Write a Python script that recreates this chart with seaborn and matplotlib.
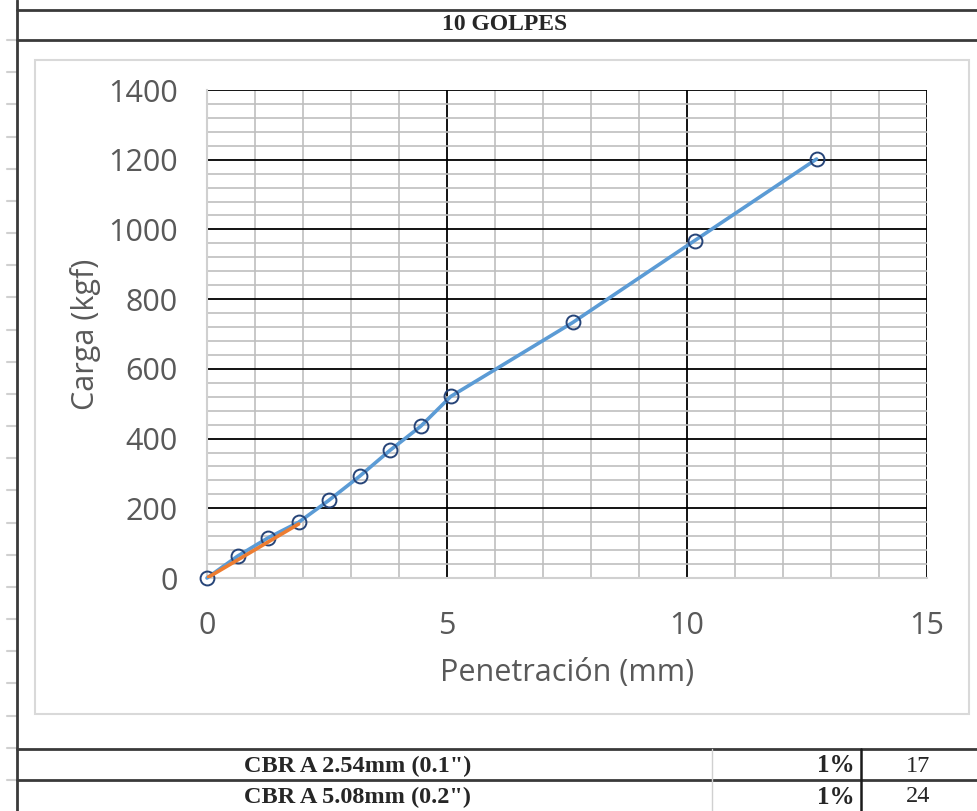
import numpy as np
import pandas as pd
import seaborn as sns
import matplotlib.pyplot as plt
from matplotlib.lines import Line2D
from matplotlib.patches import Rectangle
from matplotlib.ticker import MultipleLocator

# =========================================================
# Data
# =========================================================
penetracion = [0, 0.64, 1.27, 1.91, 2.54, 3.18, 3.81, 4.45, 5.08, 7.62, 10.16, 12.70]
carga = [0, 63, 115, 160, 223, 292, 366, 435, 521, 733, 968, 1202]

# correction line (orange)
corr_x = [0, 1.91]
corr_y = [0, 155]

titulo = "10 GOLPES"
tabla_labels = ['CBR A 2.54mm (0.1")', 'CBR A 5.08mm (0.2")']
tabla_pct = ["1%", "1%"]
tabla_vals = ["17", "24"]

W, H = 978, 811


def px(x, y):
    """pixel coords -> figure fraction"""
    return x / W, 1 - y / H


def hline(fig, y, x0, x1, color="#3a3a3a", lw=2.0):
    (a, b), (c, d) = px(x0, y), px(x1, y)
    fig.add_artist(Line2D([a, c], [b, d], color=color, lw=lw, transform=fig.transFigure))


def vline(fig, x, y0, y1, color="#3a3a3a", lw=2.0):
    (a, b), (c, d) = px(x, y0), px(x, y1)
    fig.add_artist(Line2D([a, c], [b, d], color=color, lw=lw, transform=fig.transFigure))


# =========================================================
# Figure
# =========================================================
sns.set_style("white")
plt.rcParams["font.family"] = ["Open Sans", "DejaVu Sans"]

fig = plt.figure(figsize=(W / 100, H / 100), dpi=100)

# spreadsheet row marks on the left edge
for y in np.linspace(40, 780, 24):
    hline(fig, y, 7, 17, color="#d0d0d0", lw=1.5)

# sheet borders
vline(fig, 17, 0, H)
hline(fig, 10, 17, W)
hline(fig, 40, 17, W)
hline(fig, 749, 17, W)
hline(fig, 780, 17, W)
vline(fig, 712, 749, H, color="#d0d0d0", lw=1.0)
vline(fig, 861, 749, H, color="#1a1a1a", lw=1.8)

# chart area border
x0, y0 = px(35, 714)
x1, y1 = px(969, 60)
fig.add_artist(Rectangle((x0, y0), x1 - x0, y1 - y0, fill=False,
                         edgecolor="#d9d9d9", lw=1.5, transform=fig.transFigure))

# texts in cells
serif = ["Liberation Serif", "DejaVu Serif"]
fig.text(*px(505, 25), titulo, ha="center", va="center", fontsize=17,
         fontweight="bold", family=serif)
for i, (lab, pct, val) in enumerate(zip(tabla_labels, tabla_pct, tabla_vals)):
    yc = 766 + i * 31
    fig.text(*px(358, yc), lab, ha="center", va="center", fontsize=17.5,
             fontweight="bold", family=serif)
    fig.text(*px(855, yc), pct, ha="right", va="center", fontsize=18,
             fontweight="bold", family=serif)
    fig.text(*px(918, yc), val, ha="center", va="center", fontsize=17.5,
             family=serif)

# =========================================================
# Chart
# =========================================================
ax = fig.add_axes([207 / W, 1 - 578 / H, (927 - 207) / W, (578 - 90) / H])

df = pd.DataFrame({"Penetración (mm)": penetracion, "Carga (kgf)": carga})
df_corr = pd.DataFrame({"x": corr_x, "y": corr_y})

sns.lineplot(data=df, x="Penetración (mm)", y="Carga (kgf)", ax=ax,
             color="#5B9BD5", lw=2.6, marker="o", markersize=10,
             markerfacecolor="none", markeredgecolor="#264478",
             markeredgewidth=1.4, zorder=4, clip_on=False)
sns.lineplot(data=df_corr, x="x", y="y", ax=ax, color="#ED7D31", lw=2.6,
             zorder=5)

ax.set_xlim(0, 15)
ax.set_ylim(0, 1400)
ax.xaxis.set_major_locator(MultipleLocator(5))
ax.xaxis.set_minor_locator(MultipleLocator(1))
ax.yaxis.set_major_locator(MultipleLocator(200))
ax.yaxis.set_minor_locator(MultipleLocator(40))

ax.grid(which="minor", color="#bfbfbf", lw=1.2, zorder=1)
ax.grid(which="major", color="#000000", lw=1.3, zorder=2)
ax.set_axisbelow(True)
ax.get_xgridlines()[0].set_visible(False)
ax.get_ygridlines()[0].set_visible(False)

for s in ["left", "bottom"]:
    ax.spines[s].set_color("#d0d0d0")
    ax.spines[s].set_linewidth(1.5)
for s in ["top", "right"]:
    ax.spines[s].set_visible(False)

ax.tick_params(which="both", length=0, labelsize=22, labelcolor="#595959")
ax.tick_params(axis="x", pad=24)
ax.tick_params(axis="y", pad=21)
ax.set_xlabel("Penetración (mm)", fontsize=22, color="#595959", labelpad=12)
ax.set_ylabel("Carga (kgf)", fontsize=22, color="#595959", labelpad=5)

fig.savefig("out.png", dpi=100)
